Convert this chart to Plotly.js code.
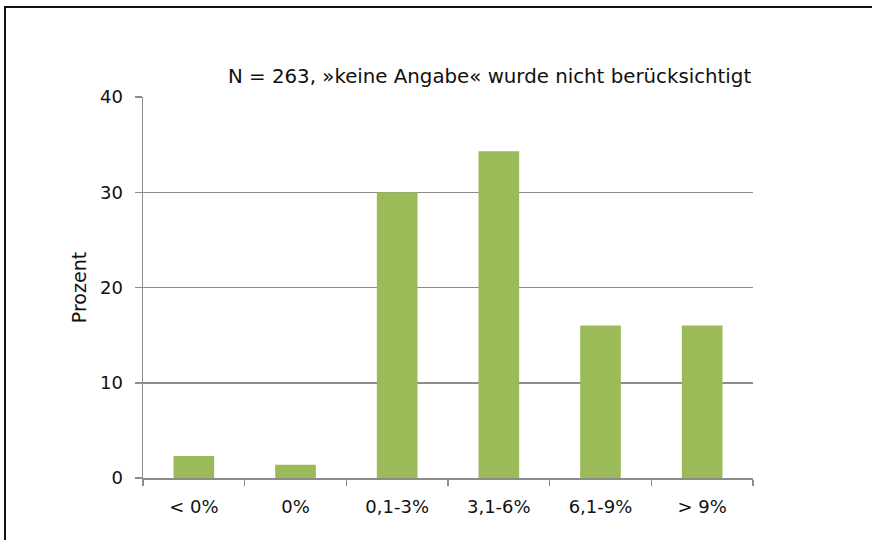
<!DOCTYPE html>
<html>
<head>
<meta charset="utf-8">
<script src="https://cdn.plot.ly/plotly-3.0.1.min.js"></script>
<style>
html,body{margin:0;padding:0;background:#fff;overflow:hidden;}
#frame{position:absolute;left:4px;top:6px;width:900px;height:600px;border-left:2px solid #111;border-top:2px solid #111;box-sizing:border-box;pointer-events:none;z-index:5;}
#chart{position:absolute;left:0;top:0;width:872px;height:540px;}
</style>
</head>
<body>
<div id="chart"></div>
<div id="frame"></div>
<script>
const categories = ["< 0%", "0%", "0,1-3%", "3,1-6%", "6,1-9%", "> 9%"];
const values = [2.3, 1.4, 30.0, 34.3, 16.0, 16.0];
const yTicks = [0, 10, 20, 30, 40];
const note = "N = 263, »keine Angabe« wurde nicht berücksichtigt";

const fam = "DejaVu Sans, Open Sans, sans-serif";
const tickFont = {family: fam, color: "#111", size: 18};

Plotly.newPlot("chart", [{
  type: "bar",
  x: categories,
  y: values,
  marker: {color: "#9BBB59"},
  hoverinfo: "none"
}], {
  width: 872, height: 540,
  margin: {l: 143, r: 119, t: 97, b: 62},
  paper_bgcolor: "#fff", plot_bgcolor: "#fff",
  bargap: 0.6,
  font: tickFont,
  showlegend: false,
  xaxis: {
    type: "category",
    showline: true, linecolor: "#8c8c8c", linewidth: 1.5,
    ticks: "outside", ticklen: 6, tickcolor: "#8c8c8c", tickwidth: 1.5,
    tickson: "boundaries",
    ticklabelstandoff: 12,
    showgrid: false,
    tickfont: tickFont
  },
  yaxis: {
    range: [0, 40],
    tickvals: yTicks,
    showline: true, linecolor: "#8c8c8c", linewidth: 1.5,
    ticks: "outside", ticklen: 7, tickcolor: "#8c8c8c", tickwidth: 1.5,
    ticklabelstandoff: 8,
    showgrid: true, gridcolor: "#8c8c8c", gridwidth: 1.5,
    zeroline: false,
    tickfont: tickFont,
    title: {text: "Prozent", font: {family: fam, color: "#111", size: 19}, standoff: 8}
  },
  annotations: [{
    text: note, xref: "paper", yref: "paper", x: 1, y: 1,
    xanchor: "right", yanchor: "bottom", yshift: 7, showarrow: false,
    font: {family: fam, size: 19.8, color: "#111"}
  }]
}, {displayModeBar: false, staticPlot: true});
</script>
</body>
</html>
